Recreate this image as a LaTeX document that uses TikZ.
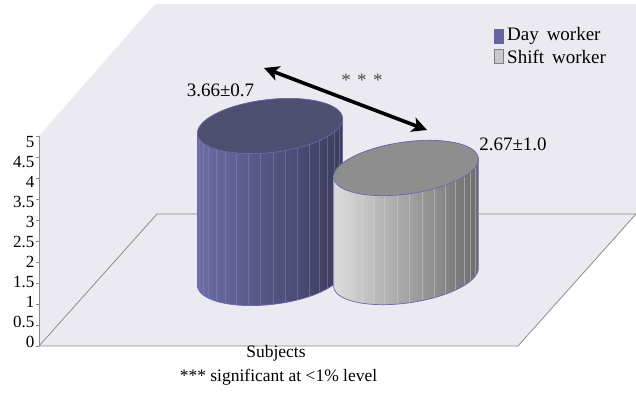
\documentclass[tikz,border=0pt]{standalone}
\usepackage{fontspec}
\setmainfont{Liberation Serif}
\usetikzlibrary{arrows.meta}
\definecolor{wallc}{RGB}{236,234,241}
\definecolor{gridc}{RGB}{140,140,140}
\definecolor{edgec}{RGB}{104,104,176}
\definecolor{dayL}{RGB}{108,108,166}
\definecolor{dayM}{RGB}{86,86,132}
\definecolor{dayR}{RGB}{60,60,92}
\definecolor{dayT}{RGB}{78,78,112}
\definecolor{dayS}{RGB}{140,140,190}
\definecolor{shL}{RGB}{220,220,220}
\definecolor{shM}{RGB}{176,176,176}
\definecolor{shR}{RGB}{108,108,108}
\definecolor{shT}{RGB}{142,142,142}
\definecolor{shS}{RGB}{215,215,215}
\definecolor{legday}{RGB}{100,100,160}
\definecolor{legsh}{RGB}{200,200,200}
\newcommand{\axisfont}{\fontsize{17}{18}\selectfont}
\newcommand{\valfont}{\fontsize{19}{20}\selectfont}
\newcommand{\legfont}{\fontsize{19}{20}\selectfont}
\newcommand{\capfont}{\fontsize{17.5}{19}\selectfont}
% #1 cx, #2 top cy, #3 bottom cy, #4 theta, #5 b, #6 side style, #7 top colour, #8 stripe colour
\newcommand{\mycyl}[8]{%
  \pgfmathsetmacro\ca{73*cos(#4)}\pgfmathsetmacro\sa{73*sin(#4)}%
  \pgfmathsetmacro\cb{#5*cos(#4)}\pgfmathsetmacro\sb{#5*sin(#4)}%
  \path[#6] plot[domain=0:180,samples=72,variable=\p] ({#1+\ca*cos(\p)+\sb*sin(\p)},{#3-\sa*cos(\p)+\cb*sin(\p)})
     -- plot[domain=180:360,samples=72,variable=\p] ({#1+\ca*cos(\p)+\sb*sin(\p)},{#2-\sa*cos(\p)+\cb*sin(\p)}) -- cycle;
  \foreach \q in {10,20,...,170}
    \draw[#8,line width=0.4pt,opacity=0.45] ({#1+\ca*cos(\q)+\sb*sin(\q)},{#2-\sa*cos(\q)+\cb*sin(\q)}) -- ({#1+\ca*cos(\q)+\sb*sin(\q)},{#3-\sa*cos(\q)+\cb*sin(\q)});
  \draw[edgeline] plot[domain=0:180,samples=72,variable=\p] ({#1+\ca*cos(\p)+\sb*sin(\p)},{#3-\sa*cos(\p)+\cb*sin(\p)})
     -- ({#1-\ca},{#2+\sa}) ({#1+\ca},{#2-\sa}) -- ({#1+\ca},{#3-\sa});
  \filldraw[fill=#7,edgeline] plot[domain=0:360,samples=120,variable=\p] ({#1+\ca*cos(\p)+\sb*sin(\p)},{#2-\sa*cos(\p)+\cb*sin(\p)}) -- cycle;
}
\begin{document}
\begin{tikzpicture}[x=1pt,y=-1pt,
  gridline/.style={draw=gridc,line width=0.8pt},
  edgeline/.style={draw=edgec,line width=0.7pt},
  ticklabel/.style={anchor=east,inner sep=0pt,font=\axisfont},
  vallabel/.style={inner sep=0pt,font=\valfont},
  legbox/.style={minimum width=9pt,minimum height=14pt,inner sep=0pt,draw=gray},
  legtext/.style={anchor=west,inner sep=0pt,font=\legfont},
  captext/.style={inner sep=0pt,font=\capfont},
  sigarrow/.style={line width=3.6pt,{Stealth[length=15pt,width=15pt,inset=4pt]}-{Stealth[length=15pt,width=15pt,inset=4pt]}}]
\useasboundingbox (0,0) rectangle (636,393);
% wall and floor
\fill[wallc] (155,4) -- (636,4) -- (636,214) -- (518,346) -- (39,346) -- (39,136) -- cycle;
\draw[gridline] (39,346) -- (157,214) -- (636,214);
\draw[gridline] (39,346) -- (518,346) -- (636,214);
% axis
\draw[gridline] (39,136) -- (39,346);
\foreach \v [count=\i] in {0,0.5,1,1.5,2,2.5,3,3.5,4,4.5,5}{
  \draw[gridline] (36,{346-42*\v}) -- (39,{346-42*\v});
  \node[ticklabel] (yl\i) at (34.5,{342-40*\v}) {\v};
}
% cylinders
\mycyl{270}{126}{278}{6.5}{26.5}{left color=dayL,middle color=dayM,right color=dayR}{dayT}{dayS}
\mycyl{406}{168}{277}{8}{26}{left color=shL,middle color=shM,right color=shR}{shT}{shS}
% value labels
\node[vallabel] (v1) at (220.5,90) {3.66±0.7};
\node[vallabel] (v2) at (513,144) {2.67±1.0};
% significance arrow
\coordinate (arrA) at (264,68);
\coordinate (arrB) at (427,130);
\draw[sigarrow] (arrA) -- (arrB);
\node[inner sep=0pt,font=\valfont,text=black!70] (stars) at (362,80) {*\,\,*\,\,*};
% legend
\node[legbox,fill=legday,draw=legday] (lb1) at (498.5,36) {};
\node[legtext] (lt1) at (507,36) {Day\, worker};
\node[legbox,fill=legsh,draw=gray] (lb2) at (498.5,56) {};
\node[legtext] (lt2) at (507,57) {Shift\, worker};
% captions
\node[captext] (subj) at (276,353) {Subjects};
\node[captext] (sig) at (278.5,377) {*** significant at <1\% level};
\end{tikzpicture}
\end{document}
